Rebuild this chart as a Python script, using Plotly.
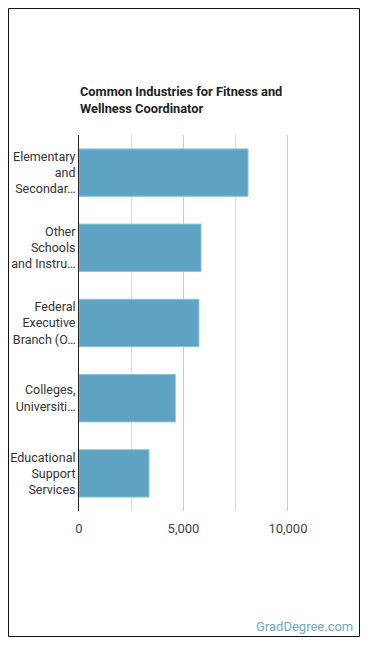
import plotly.graph_objects as go

categories = [
    "Elementary<br>and<br>Secondar…",
    "Other<br>Schools<br>and Instru…",
    "Federal<br>Executive<br>Branch (O…",
    "Colleges,<br>Universiti…",
    "Educational<br>Support<br>Services",
]
values = [8090, 5840, 5740, 4610, 3350]
x_tickvals = [0, 5000, 10000]
x_ticktext = ["0", "5,000", "10,000"]
x_minorvals = [2500, 7500]

W, H = 370, 648
L, R, T, B = 79, 29, 135, 137
pw, ph = W - L - R, H - T - B

def px(x):
    return (x - L) / pw

def py(y):
    return 1 - (y - T) / ph

fig = go.Figure(
    go.Bar(
        x=values,
        y=categories,
        orientation="h",
        marker=dict(color="#5ea3c1", line=dict(color="#8cc3da", width=1)),
        hoverinfo="x",
    )
)

fig.update_layout(
    width=W,
    height=H,
    margin=dict(l=L, r=R, t=T, b=B, autoexpand=False),
    paper_bgcolor="white",
    plot_bgcolor="white",
    showlegend=False,
    bargap=0.37,
    font=dict(family="Roboto", size=12, color="#333"),
    xaxis=dict(
        range=[0, 12540],
        tickvals=x_tickvals,
        ticktext=x_ticktext,
        showgrid=True,
        gridcolor="#cccccc",
        gridwidth=1,
        minor=dict(tickmode="array", tickvals=x_minorvals, showgrid=True,
                   gridcolor="#dddddd", gridwidth=1),
        zeroline=False,
        showline=False,
        ticks="",
        ticklabelstandoff=8,
        tickfont=dict(size=13, color="#444"),
        automargin=False,
        fixedrange=True,
    ),
    yaxis=dict(
        autorange="reversed",
        categoryorder="array",
        categoryarray=categories,
        showgrid=False,
        showline=True,
        linecolor="#222",
        linewidth=1,
        ticks="",
        ticklabelstandoff=0,
        tickfont=dict(size=12.5, color="#333"),
        automargin=False,
        fixedrange=True,
    ),
    shapes=[
        dict(
            type="rect",
            xref="paper",
            yref="paper",
            x0=px(8.5),
            x1=px(359.5),
            y0=py(8.5),
            y1=py(636.5),
            line=dict(color="#111", width=1),
            fillcolor="rgba(0,0,0,0)",
            layer="below",
        )
    ],
    annotations=[
        dict(
            text="<b>Common Industries for Fitness and<br>Wellness Coordinator</b>",
            xref="paper",
            yref="paper",
            x=px(77.5),
            y=py(82),
            xanchor="left",
            yanchor="top",
            align="left",
            showarrow=False,
            font=dict(family="Roboto", size=12.8, color="#222"),
        ),
        dict(
            text="GradDegree.com",
            xref="paper",
            yref="paper",
            x=px(355),
            y=py(626),
            xanchor="right",
            yanchor="middle",
            showarrow=False,
            font=dict(family="Roboto", size=13, color="#6fa8c6"),
        ),
    ],
)

fig.write_html("out.html")
